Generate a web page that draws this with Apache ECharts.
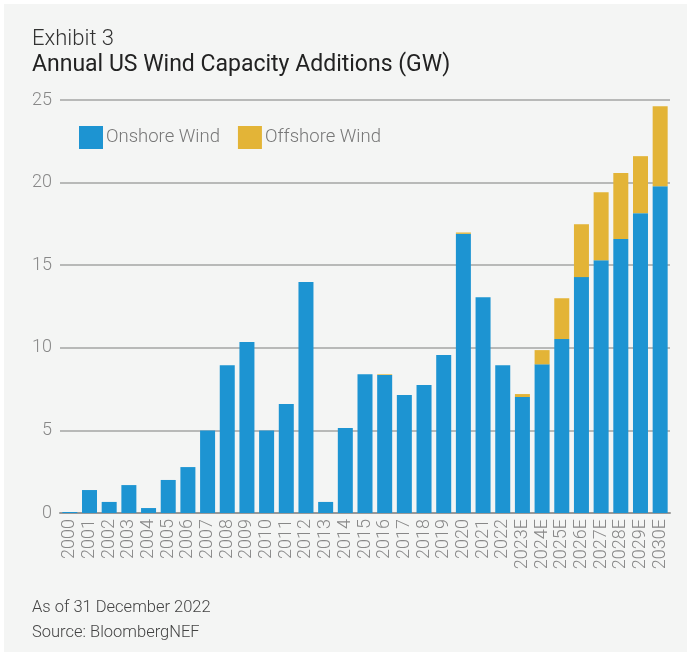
<!DOCTYPE html>
<html>
<head>
<meta charset="utf-8">
<script src="https://cdn.jsdelivr.net/npm/echarts@6/dist/echarts.min.js"></script>
<style>
html,body{margin:0;padding:0;background:#ffffff;}
#chart{width:689px;height:656px;}
</style>
</head>
<body>
<div id="chart"></div>
<script>
const categories = ['2000','2001','2002','2003','2004','2005','2006','2007','2008','2009','2010','2011','2012','2013','2014','2015','2016','2017','2018','2019','2020','2021','2022','2023E','2024E','2025E','2026E','2027E','2028E','2029E','2030E'];
const onshoreWind = [0.06,1.39,0.67,1.69,0.3,2.0,2.78,5.0,8.95,10.35,5.0,6.6,13.98,0.67,5.15,8.4,8.36,7.15,7.75,9.56,16.9,13.06,8.95,7.02,9.0,10.53,14.28,15.3,16.58,18.15,19.78];
const offshoreWind = [0,0,0,0,0,0,0,0,0,0,0,0,0,0,0,0,0.04,0,0,0,0.08,0,0,0.18,0.86,2.47,3.2,4.12,4.0,3.45,4.84];
const yTicks = [0,5,10,15,20,25];

const FONT = 'Roboto, "Noto Sans", sans-serif';
const chart = echarts.init(document.getElementById('chart'), null, {renderer:'canvas'});
chart.setOption({
  animation:false,
  backgroundColor:'#ffffff',
  textStyle:{fontFamily:FONT},
  graphic:[
    {type:'rect', left:4, top:4, shape:{width:683, height:648}, style:{fill:'#f4f5f4'}, z:-10, silent:true},
    {type:'text', left:32, top:28, style:{text:'Exhibit 3', font:'300 22px ' + FONT, fill:'#333333'}},
    {type:'text', left:32, top:54, style:{text:'Annual US Wind Capacity Additions (GW)', font:'400 23px ' + FONT, fill:'#222222'}},
    {type:'text', left:32, top:599, style:{text:'As of 31 December 2022', font:'300 16.5px ' + FONT, fill:'#444444'}},
    {type:'text', left:32, top:624, style:{text:'Source: BloombergNEF', font:'300 16.5px ' + FONT, fill:'#444444'}}
  ],
  legend:{
    left:79, top:126, padding:0,
    itemWidth:24, itemHeight:23, itemGap:18,
    icon:'rect',
    textStyle:{fontFamily:FONT, fontSize:18.5, fontWeight:300, color:'#777777', padding:[0,0,0,-2]},
    data:['Onshore Wind','Offshore Wind']
  },
  grid:{left:60, right:19, top:100, bottom:143, containLabel:false},
  xAxis:{
    type:'category',
    data:categories,
    axisLine:{lineStyle:{color:'#999999', width:2}},
    axisTick:{show:false},
    axisLabel:{rotate:90, interval:0, margin:6, fontFamily:FONT, fontSize:18, fontWeight:300, color:'#888888'}
  },
  yAxis:{
    type:'value',
    min:yTicks[0], max:yTicks[yTicks.length-1], interval:5,
    axisLine:{show:false},
    axisTick:{show:false},
    splitLine:{lineStyle:{color:'#a5a5a5', width:1.5}},
    axisLabel:{margin:8, fontFamily:FONT, fontSize:18, fontWeight:300, color:'#888888'}
  },
  series:[
    {name:'Onshore Wind', type:'bar', stack:'total', data:onshoreWind, barWidth:15, itemStyle:{color:'#1d94d2'}},
    {name:'Offshore Wind', type:'bar', stack:'total', data:offshoreWind, barWidth:15, itemStyle:{color:'#e3b437'}}
  ]
});
</script>
</body>
</html>
